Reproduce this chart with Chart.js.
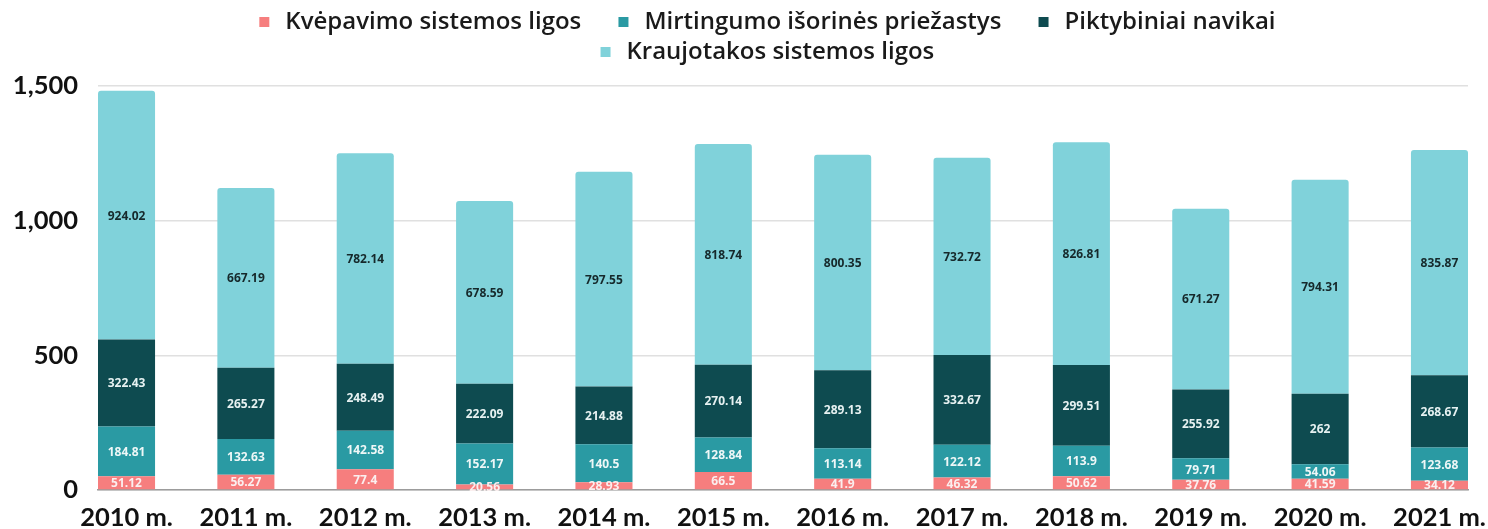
<!DOCTYPE html>
<html>
<head>
<meta charset="utf-8">
<script src="https://cdn.jsdelivr.net/npm/chart.js@4.4.1/dist/chart.umd.min.js"></script>
<style>
  html, body { margin: 0; padding: 0; background: #ffffff; }
  #wrap { width: 1488px; height: 529px; position: relative; }
</style>
</head>
<body>
<div id="wrap"><canvas id="c" width="1488" height="529"></canvas></div>
<script>
// ---- data ----
const categories = ['2010 m.', '2011 m.', '2012 m.', '2013 m.', '2014 m.', '2015 m.', '2016 m.', '2017 m.', '2018 m.', '2019 m.', '2020 m.', '2021 m.'];
const seriesNames = ['Kvėpavimo sistemos ligos', 'Mirtingumo išorinės priežastys', 'Piktybiniai navikai', 'Kraujotakos sistemos ligos'];
const respiratory = [51.12, 56.27, 77.4, 20.56, 28.93, 66.5, 41.9, 46.32, 50.62, 37.76, 41.59, 34.12];
const externalCauses = [184.81, 132.63, 142.58, 152.17, 140.5, 128.84, 113.14, 122.12, 113.9, 79.71, 54.06, 123.68];
const neoplasms = [322.43, 265.27, 248.49, 222.09, 214.88, 270.14, 289.13, 332.67, 299.51, 255.92, 262, 268.67];
const circulatory = [924.02, 667.19, 782.14, 678.59, 797.55, 818.74, 800.35, 732.72, 826.81, 671.27, 794.31, 835.87];
const yTickValues = [0, 500, 1000, 1500];

// ---- styles ----
const colors = ['#F67E7E', '#2A9AA3', '#0E4B50', '#80D2DA'];
const labelColors = ['#FBEFEF', '#EEF7F7', '#E6F1F1', '#16292B'];
const BAR_PCT = 0.478;
const TICK_FONT = { family: 'Lato, "Open Sans", sans-serif', size: 25.5, weight: '700' };
const LEGEND_HEIGHT = 82;

// Fixed legend height + align outer bar edges with the plot area edges
const edgeAlign = {
  id: 'edgeAlign',
  beforeUpdate(chart) {
    const lg = chart.legend;
    if (lg && !lg._fixedHeight) {
      const origFit = lg.fit.bind(lg);
      lg.fit = function () { origFit(); this.height = LEGEND_HEIGHT; };
      lg._fixedHeight = true;
    }
  },
  afterLayout(chart) {
    const s = chart.scales.x;
    s._startValue = -BAR_PCT / 2;
    s._valueRange = (categories.length - 1) + BAR_PCT;
  }
};

// Value labels inside each segment
const segmentLabels = {
  id: 'segmentLabels',
  afterDatasetsDraw(chart) {
    const ctx = chart.ctx;
    ctx.save();
    ctx.font = '700 12px "Open Sans", "Noto Sans", sans-serif';
    ctx.textAlign = 'center';
    ctx.textBaseline = 'middle';
    chart.data.datasets.forEach((ds, di) => {
      const meta = chart.getDatasetMeta(di);
      ctx.fillStyle = labelColors[di];
      meta.data.forEach((el, i) => {
        const p = el.getProps(['x', 'y', 'base'], true);
        ctx.fillText(String(ds.data[i]), p.x, (p.y + p.base) / 2 + 1);
      });
    });
    ctx.restore();
  }
};

const seriesData = [respiratory, externalCauses, neoplasms, circulatory];

new Chart(document.getElementById('c'), {
  type: 'bar',
  data: {
    labels: categories,
    datasets: seriesNames.map((name, i) => ({
      label: name,
      data: seriesData[i],
      backgroundColor: colors[i],
      borderWidth: 0,
      borderRadius: 3,
      borderSkipped: 'start',
      categoryPercentage: 1,
      barPercentage: BAR_PCT
    }))
  },
  options: {
    responsive: false,
    animation: false,
    devicePixelRatio: 1,
    locale: 'en-US',
    layout: { padding: { top: 4, right: 20, bottom: 0, left: 0 } },
    plugins: {
      legend: {
        position: 'top',
        align: 'center',
        fullSize: false,
        labels: {
          color: '#1a1a1a',
          font: { family: '"Open Sans", Lato, sans-serif', size: 24, weight: '600' },
          boxWidth: 10,
          boxHeight: 10,
          padding: 6,
          generateLabels(chart) {
            return chart.data.datasets.map((ds, i) => ({
              text: '\u2009' + ds.label + '     ',
              fillStyle: colors[i],
              strokeStyle: colors[i],
              lineWidth: 0,
              hidden: false,
              datasetIndex: i,
              fontColor: '#1a1a1a'
            }));
          }
        }
      },
      tooltip: { enabled: false }
    },
    scales: {
      x: {
        stacked: true,
        offset: false,
        grid: { display: false, drawTicks: false },
        border: { display: true, color: '#9c9c9c', width: 1.5 },
        ticks: { color: '#111111', font: TICK_FONT, padding: 12, maxRotation: 0, autoSkip: false },
        afterFit(scale) {
          scale.height = 39;
          scale.paddingLeft = 0;
          scale.paddingRight = 0;
        }
      },
      y: {
        stacked: true,
        min: 0,
        max: 1500,
        grid: { color: '#e0e0e0', lineWidth: 1.5, drawTicks: false },
        border: { display: false },
        ticks: {
          color: '#111111',
          font: TICK_FONT,
          padding: 20,
          callback: (v) => Number(v).toLocaleString('en-US')
        },
        afterBuildTicks(scale) {
          scale.ticks = yTickValues.map(v => ({ value: v }));
        },
        afterFit(scale) {
          scale.width = 98;
        }
      }
    }
  },
  plugins: [edgeAlign, segmentLabels]
});
</script>
</body>
</html>
